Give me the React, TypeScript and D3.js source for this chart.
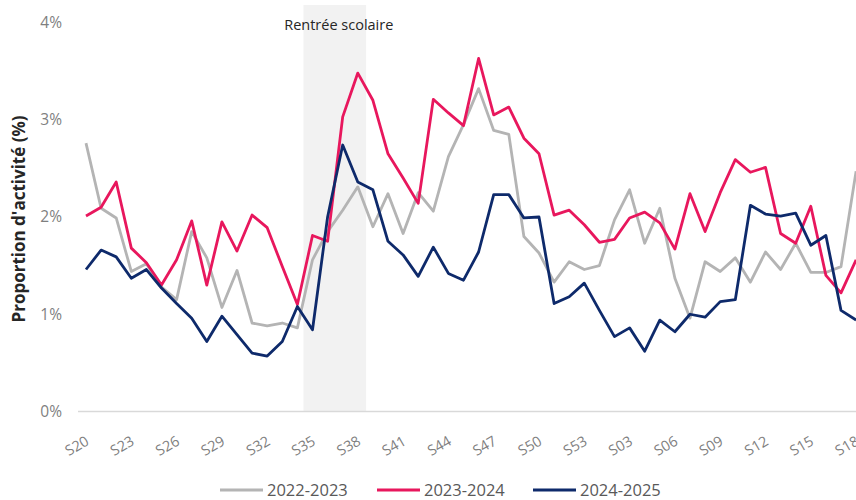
import * as d3 from 'd3'

// weeks S20..S53 then S01..S18
const weeks = [
  ...d3.range(20, 54).map((w) => `S${w}`),
  ...d3.range(1, 19).map((w) => `S${String(w).padStart(2, '0')}`),
]

const tickWeeks = ['S20', 'S23', 'S26', 'S29', 'S32', 'S35', 'S38', 'S41', 'S44', 'S47', 'S50', 'S53', 'S03', 'S06', 'S09', 'S12', 'S15', 'S18']
const yTicks = [0, 1, 2, 3, 4]

const s2022 = [
  2.76, 2.09, 1.99, 1.44, 1.52, 1.28, 1.15, 1.85, 1.58, 1.07, 1.45, 0.91, 0.88, 0.91, 0.86,
  1.56, 1.85, 2.07, 2.31, 1.9, 2.24, 1.83, 2.25, 2.06, 2.62, 2.95, 3.32, 2.89, 2.85, 1.8,
  1.63, 1.33, 1.54, 1.46, 1.5, 1.97, 2.28, 1.73, 2.09, 1.37, 0.96, 1.54, 1.44, 1.58, 1.33,
  1.64, 1.46, 1.73, 1.43, 1.43, 1.49, 2.47,
]
const s2023 = [
  2.01, 2.1, 2.36, 1.68, 1.53, 1.3, 1.56, 1.96, 1.3, 1.95, 1.65, 2.02, 1.89, 1.49, 1.1,
  1.81, 1.75, 3.03, 3.48, 3.2, 2.65, 2.4, 2.14, 3.21, 3.07, 2.94, 3.63, 3.05, 3.13, 2.81,
  2.65, 2.02, 2.07, 1.92, 1.74, 1.77, 1.99, 2.05, 1.94, 1.67, 2.24, 1.85, 2.25, 2.59, 2.46,
  2.51, 1.83, 1.73, 2.11, 1.4, 1.22, 1.56,
]
const s2024 = [
  1.46, 1.66, 1.59, 1.37, 1.46, 1.27, 1.11, 0.96, 0.72, 0.98, 0.79, 0.6, 0.57, 0.72, 1.08,
  0.84, 2.0, 2.74, 2.36, 2.28, 1.75, 1.61, 1.39, 1.69, 1.42, 1.35, 1.64, 2.23, 2.23, 1.99,
  2.0, 1.11, 1.18, 1.32, 1.04, 0.77, 0.86, 0.62, 0.94, 0.82, 1.0, 0.97, 1.13, 1.15, 2.12,
  2.03, 2.01, 2.04, 1.71, 1.81, 1.04, 0.94,
]

const series = [
  { name: '2022-2023', values: s2022, color: '#b4b4b4' },
  { name: '2023-2024', values: s2023, color: '#e8175d' },
  { name: '2024-2025', values: s2024, color: '#0e2a6b' },
]

const bandStart = 'S35'
const bandEnd = 'S38'

const W = 856
const H = 500
const FONT = '"Open Sans", "Liberation Sans", sans-serif'

export default function App() {
  const x = d3.scalePoint<string>().domain(weeks).range([86, 856.1])
  const step = x.step()
  const y = d3.scaleLinear().domain([0, 4]).range([411.5, 22.5])

  const line = d3
    .line<number>()
    .x((_, i) => x(weeks[i]) as number)
    .y((d) => y(d))

  const bx0 = (x(bandStart) as number) - step * 0.6
  const bx1 = (x(bandEnd) as number) + step * 0.55

  const legendX = [220, 377, 533]

  return (
    <div style={{ position: 'fixed', left: 0, top: 0 }}>
      <svg width={W} height={H} style={{ display: 'block', background: '#fff' }}>
        {/* Rentrée scolaire band */}
        <rect x={bx0} y={5} width={bx1 - bx0} height={y(0) - 5} fill="#f2f2f2" />
        <text x={(bx0 + bx1) / 2 + 4} y={30} textAnchor="middle" fontFamily={FONT} fontSize={14.5} fill="#262626">
          Rentrée scolaire
        </text>

        {/* baseline */}
        <line x1={78} x2={W} y1={y(0)} y2={y(0)} stroke="#d9d9d9" strokeWidth={1.5} />

        {/* y ticks */}
        {yTicks.map((t) => (
          <text key={t} x={62} y={y(t)} dy="0.35em" textAnchor="end" fontFamily={FONT} fontSize={15.5} fill="#7f7f7f">
            {t}%
          </text>
        ))}

        <text
          transform={`translate(25,${(y(0) + y(4)) / 2 + 2}) rotate(-90)`}
          textAnchor="middle"
          fontFamily={FONT}
          fontSize={17}
          fontWeight="bold"
          fill="#262626"
        >
          Proportion d'activité (%)
        </text>

        {/* x ticks */}
        {tickWeeks.map((w) => (
          <text
            key={w}
            transform={`translate(${(x(w) as number) + 4},${444}) rotate(-30)`}
            textAnchor="end"
            fontFamily={FONT}
            fontSize={14.5}
            fill="#7f7f7f"
          >
            {w}
          </text>
        ))}

        {/* lines */}
        {series.map((s) => (
          <path key={s.name} d={line(s.values) ?? ''} fill="none" stroke={s.color} strokeWidth={2.8} strokeLinejoin="round" />
        ))}

        {/* legend */}
        {series.map((s, i) => (
          <g key={s.name} transform={`translate(${legendX[i]},490)`}>
            <line x1={0} x2={43} y1={0} y2={0} stroke={s.color} strokeWidth={3} />
            <text x={47} y={0} dy="0.35em" fontFamily={FONT} fontSize={16.5} fill="#595959">
              {s.name}
            </text>
          </g>
        ))}
      </svg>
    </div>
  )
}
